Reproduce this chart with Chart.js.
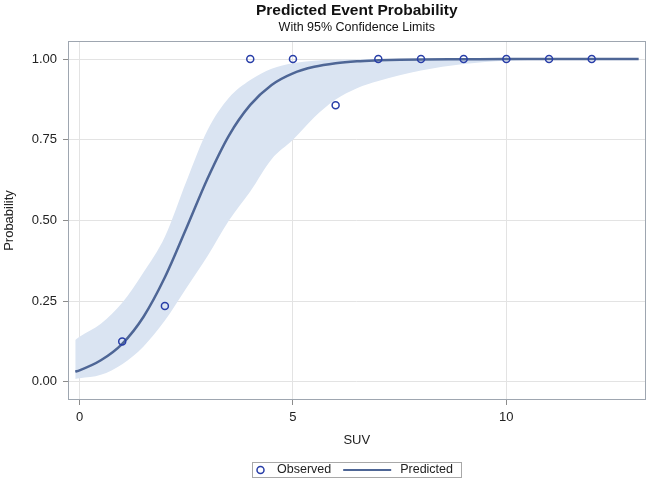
<!DOCTYPE html>
<html>
<head>
<meta charset="utf-8">
<title>Predicted Event Probability</title>
<script src="https://cdn.jsdelivr.net/npm/chart.js@4.4.1/dist/chart.umd.min.js"></script>
<style>
  body { margin: 0; background: #fff; }
</style>
</head>
<body>
<canvas id="myChart" width="651" height="482"></canvas>
<script>
const suvGrid   = [-0.1, 0, 0.5, 1, 1.5, 2, 2.5, 3, 3.5, 4, 4.5, 5, 5.5, 6, 6.5, 7, 7.5, 8, 9, 10, 11, 12, 13.1];
const predicted = [0.032, 0.036, 0.067, 0.118, 0.202, 0.324, 0.475, 0.630, 0.763, 0.858, 0.920, 0.956, 0.976, 0.987, 0.993, 0.996, 0.998, 0.999, 0.9995, 1, 1, 1, 1];
const lowerCL   = [0.009, 0.011, 0.022, 0.055, 0.11, 0.19, 0.29, 0.39, 0.50, 0.59, 0.69, 0.75, 0.82, 0.875, 0.91, 0.932, 0.95, 0.965, 0.985, 0.995, 0.998, 0.999, 1];
const upperCL   = [0.13, 0.14, 0.18, 0.245, 0.34, 0.45, 0.62, 0.78, 0.88, 0.935, 0.97, 0.987, 0.995, 0.998, 0.999, 1, 1, 1, 1, 1, 1, 1, 1];

// observed proportions
const obsSUV   = [1, 2, 4, 5, 6, 7, 8, 9, 10, 11, 12];
const observed = [0.125, 0.235, 1, 1, 0.857, 1, 1, 1, 1, 1, 1];

const xTicks = [0, 5, 10];
const yTicks = [0, 0.25, 0.5, 0.75, 1];

const FONT = '"Liberation Sans", Arial, sans-serif';
const bandColor = 'rgb(218, 228, 242)';
const lineColor = 'rgb(78, 102, 150)';
const obsColor = 'rgb(40, 62, 168)';

function pts(xs, ys) {
  return xs.map((x, i) => ({ x: x, y: ys[i] }));
}

// box round the plot area
const frame = {
  id: 'frame',
  afterDatasetsDraw(chart) {
    const a = chart.chartArea;
    const ctx = chart.ctx;
    ctx.save();
    ctx.strokeStyle = '#9ea6b0';
    ctx.lineWidth = 1;
    ctx.strokeRect(Math.round(a.left) + 0.5, Math.round(a.top) + 0.5,
      Math.round(a.right - a.left) - 1, Math.round(a.bottom - a.top) - 1);
    ctx.restore();
  }
};

// legend with a border, like the SAS one
const legendBox = {
  id: 'legendBox',
  afterDraw(chart) {
    const ctx = chart.ctx;
    const a = chart.chartArea;
    ctx.save();
    ctx.font = '12.5px ' + FONT;
    const w1 = ctx.measureText('Observed').width;
    const w2 = ctx.measureText('Predicted').width;
    const width = 8 + 16.5 + w1 + 12 + 48 + 9 + w2 + 8;
    const left = Math.round((a.left + a.right) / 2 - width / 2) + 0.5;
    const top = chart.height - 19.5;
    const h = 15;
    const cy = top + h / 2;

    ctx.strokeStyle = '#a8a8a8';
    ctx.lineWidth = 1;
    ctx.strokeRect(left, top, Math.round(width), h);

    let x = left + 8;
    ctx.beginPath();
    ctx.arc(x, cy, 3.5, 0, Math.PI * 2);
    ctx.strokeStyle = obsColor;
    ctx.lineWidth = 1.5;
    ctx.stroke();

    x += 16.5;
    ctx.fillStyle = '#222';
    ctx.textBaseline = 'middle';
    ctx.fillText('Observed', x, cy);

    x += w1 + 12;
    ctx.beginPath();
    ctx.moveTo(x, cy);
    ctx.lineTo(x + 48, cy);
    ctx.strokeStyle = lineColor;
    ctx.lineWidth = 2;
    ctx.stroke();

    x += 48 + 9;
    ctx.fillText('Predicted', x, cy);
    ctx.restore();
  }
};

const data = {
  datasets: [
    {
      label: 'Upper',
      data: pts(suvGrid, upperCL),
      order: 3,
      borderWidth: 0,
      pointRadius: 0,
      backgroundColor: bandColor,
      fill: '+1',
      cubicInterpolationMode: 'monotone'
    },
    {
      label: 'Lower',
      data: pts(suvGrid, lowerCL),
      order: 2,
      borderWidth: 0,
      pointRadius: 0,
      fill: false,
      cubicInterpolationMode: 'monotone'
    },
    {
      label: 'Predicted',
      data: pts(suvGrid, predicted),
      order: 1,
      borderColor: lineColor,
      borderWidth: 2.5,
      pointRadius: 0,
      fill: false,
      cubicInterpolationMode: 'monotone'
    },
    {
      label: 'Observed',
      data: pts(obsSUV, observed),
      order: 0,
      showLine: false,
      pointStyle: 'circle',
      pointRadius: 3.5,
      pointBorderWidth: 1.5,
      pointBorderColor: obsColor,
      pointBackgroundColor: 'rgba(0,0,0,0)'
    }
  ]
};

const config = {
  type: 'line',
  data: data,
  plugins: [frame, legendBox],
  options: {
    responsive: false,
    animation: false,
    devicePixelRatio: 1,
    layout: { padding: { left: 0, right: 5, top: 0, bottom: 32 } },
    plugins: {
      legend: { display: false },
      tooltip: { enabled: false },
      title: {
        display: true,
        text: 'Predicted Event Probability',
        fullSize: false,
        color: '#111',
        font: { family: FONT, size: 15.5, weight: 'bold' },
        padding: { top: 1, bottom: 0 }
      },
      subtitle: {
        display: true,
        text: 'With 95% Confidence Limits',
        fullSize: false,
        color: '#111',
        font: { family: FONT, size: 12.5 },
        padding: { top: 0, bottom: 6.4 }
      }
    },
    scales: {
      x: {
        type: 'linear',
        min: -0.27,
        max: 13.26,
        afterBuildTicks: (s) => { s.ticks = xTicks.map(v => ({ value: v })); },
        afterFit: (s) => { s.height = 50; },
        ticks: { color: '#222', padding: 5, font: { family: FONT, size: 13 } },
        grid: { color: '#e3e3e3', tickColor: '#8c8c8c', tickLength: 5 },
        border: { display: false },
        title: {
          display: true, text: 'SUV', color: '#222',
          font: { family: FONT, size: 13 }, padding: { top: 0, bottom: 2 }
        }
      },
      y: {
        type: 'linear',
        min: -0.056,
        max: 1.056,
        afterBuildTicks: (s) => { s.ticks = yTicks.map(v => ({ value: v })); },
        afterFit: (s) => { s.width = 68; },
        ticks: {
          color: '#222', padding: 6, font: { family: FONT, size: 13 },
          callback: (v) => Number(v).toFixed(2)
        },
        grid: { color: '#e3e3e3', tickColor: '#8c8c8c', tickLength: 5 },
        border: { display: false },
        title: {
          display: true, text: 'Probability', color: '#222',
          font: { family: FONT, size: 13 }, padding: { top: 2, bottom: 0 }
        }
      }
    }
  }
};

const myChart = new Chart(document.getElementById('myChart'), config);
</script>
</body>
</html>
